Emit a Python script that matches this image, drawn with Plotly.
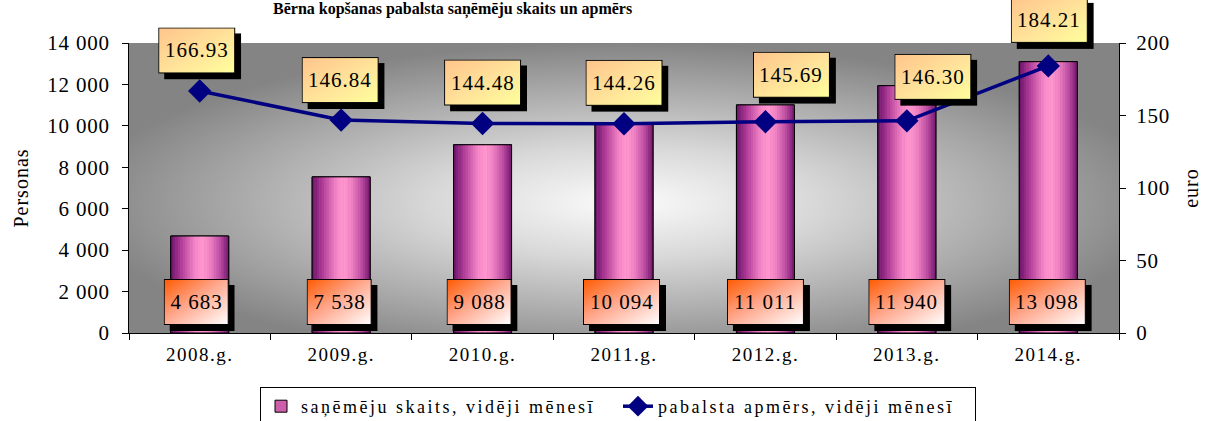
import base64
import plotly.graph_objects as go

# ---------------- data ----------------
years = ["2008.g.", "2009.g.", "2010.g.", "2011.g.", "2012.g.", "2013.g.", "2014.g."]
recipients = [4683, 7538, 9088, 10094, 11011, 11940, 13098]
benefit = [166.93, 146.84, 144.48, 144.26, 145.69, 146.30, 184.21]
name_bars = "saņēmēju skaits, vidēji mēnesī"
name_line = "pabalsta apmērs, vidēji mēnesī"
title_text = "Bērna kopšanas pabalsta saņēmēju skaits un apmērs"
y1_ticks = [0, 2000, 4000, 6000, 8000, 10000, 12000, 14000]
y2_ticks = [0, 50, 100, 150, 200]

# ---------------- layout constants ----------------
W, H = 1207, 421
ML, MR, MT, MB = 129, 88, 43, 88
PW, PH = W - ML - MR, H - MT - MB
Y1MAX, Y2MAX = 14000, 200
FONT = "Times New Roman, Liberation Serif, serif"
BW = 0.41  # bar width in category units
N = len(years)

# label box offsets (px) relative to anchor
top_dx = [-3, -1, 0, 0, 26, 26, 1]
top_dy = [40.5, 40, 41, 41, 47, 44, 46]
bot_dx = [-3.5, -2, -3.5, -2.5, 0, 0, -1]
BOT_Y = 1497  # value level of bottom labels
BOX_H = 46
SHADOW = 6


def lerp(c1, c2, t):
    return tuple(round(a + (b - a) * t) for a, b in zip(c1, c2))


grad_stops = [
    (0.0, (105, 18, 105)),
    (0.18, (175, 60, 150)),
    (0.42, (245, 135, 200)),
    (0.55, (255, 152, 206)),
    (0.68, (240, 130, 196)),
    (0.86, (185, 75, 160)),
    (1.0, (112, 22, 108)),
]


def grad_color(t):
    for (t0, c0), (t1, c1) in zip(grad_stops[:-1], grad_stops[1:]):
        if t0 <= t <= t1:
            return "rgb(%d,%d,%d)" % lerp(c0, c1, (t - t0) / (t1 - t0))
    return "rgb(%d,%d,%d)" % grad_stops[-1][1]


def svg_uri(svg):
    return "data:image/svg+xml;base64," + base64.b64encode(svg.encode("utf-8")).decode("ascii")


def box_svg(w, h, stops):
    st = "".join('<stop offset="%s" stop-color="%s"/>' % (o, c) for o, c in stops)
    return svg_uri(
        f'<svg xmlns="http://www.w3.org/2000/svg" width="{w + SHADOW}" height="{h + SHADOW}" '
        f'viewBox="0 0 {w + SHADOW} {h + SHADOW}" preserveAspectRatio="none">'
        f'<defs><linearGradient id="g" x1="0" y1="0" x2="1" y2="1">{st}</linearGradient></defs>'
        f'<rect x="{SHADOW}" y="{SHADOW}" width="{w}" height="{h}" fill="#000"/>'
        f'<rect x="0.5" y="0.5" width="{w - 1}" height="{h - 1}" fill="url(#g)" stroke="#000" stroke-width="1"/>'
        f'</svg>'
    )


bg_uri = svg_uri(
    '<svg xmlns="http://www.w3.org/2000/svg" width="990" height="290" viewBox="0 0 990 290" preserveAspectRatio="none">'
    '<defs><radialGradient id="r" cx="0.5" cy="0.55" r="0.55" fx="0.5" fy="0.55">'
    '<stop offset="0" stop-color="#fbfbfb"/><stop offset="0.35" stop-color="#d8d8d8"/>'
    '<stop offset="1" stop-color="#848484"/></radialGradient></defs>'
    '<rect x="0" y="0" width="990" height="290" fill="url(#r)"/></svg>'
)

fig = go.Figure()

# legend / base bar trace
fig.add_trace(go.Bar(
    x=years, y=recipients, name=name_bars, width=BW,
    marker=dict(color="rgb(205,95,170)", line=dict(color="black", width=1)),
    yaxis="y", hoverinfo="skip",
))

# gradient strips
NS = 24
sw = BW / NS
for k in range(NS):
    t = (k + 0.5) / NS
    fig.add_trace(go.Bar(
        x=years, y=recipients, width=sw * 1.15, offset=-BW / 2 + k * sw - sw * 0.05,
        marker=dict(color=grad_color(t), line=dict(width=0)),
        showlegend=False, hoverinfo="skip", yaxis="y",
    ))

# outline
fig.add_trace(go.Bar(
    x=years, y=recipients, width=BW,
    marker=dict(color="rgba(0,0,0,0)", line=dict(color="black", width=1)),
    showlegend=False, hoverinfo="skip", yaxis="y",
))

# line
fig.add_trace(go.Scatter(
    x=years, y=benefit, name=name_line, yaxis="y2", mode="lines+markers",
    line=dict(color="#000080", width=3.5),
    marker=dict(symbol="diamond", size=18, color="#000080"),
))

annotations = []
images = [dict(source=bg_uri, xref="paper", yref="paper", x=0, y=1, sizex=1, sizey=1,
               xanchor="left", yanchor="top", sizing="stretch", layer="below")]

top_stops = [(0, "#ffc48c"), (0.55, "#ffe49a"), (1, "#ffff9c")]
bot_stops = [(0, "#ff5a00"), (0.45, "#ffa58a"), (1, "#ffffff")]

for i in range(N):
    # top labels (benefit)
    txt = f"{benefit[i]:.2f}"
    w = 12 * len(txt) + 5
    cx = (i + 0.5) * PW / N + top_dx[i]
    cy = benefit[i] / Y2MAX * PH + top_dy[i]
    images.append(dict(source=box_svg(w, BOX_H, top_stops), xref="paper", yref="paper",
                       x=(cx - w / 2) / PW, y=(cy + BOX_H / 2) / PH,
                       sizex=(w + SHADOW) / PW, sizey=(BOX_H + SHADOW) / PH,
                       xanchor="left", yanchor="top", sizing="stretch", layer="above"))
    annotations.append(dict(text=txt, xref="paper", yref="paper", x=cx / PW, y=cy / PH,
                            xanchor="center", yanchor="middle", showarrow=False,
                            font=dict(family=FONT, size=21, color="black")))
    # bottom labels (recipients)
    txt = f"{recipients[i]:,}".replace(",", " ")
    w = 12 * len(txt) + 5
    cx = (i + 0.5) * PW / N + bot_dx[i]
    cy = BOT_Y / Y1MAX * PH
    images.append(dict(source=box_svg(w, BOX_H, bot_stops), xref="paper", yref="paper",
                       x=(cx - w / 2) / PW, y=(cy + BOX_H / 2) / PH,
                       sizex=(w + SHADOW) / PW, sizey=(BOX_H + SHADOW) / PH,
                       xanchor="left", yanchor="top", sizing="stretch", layer="above"))
    annotations.append(dict(text=txt, xref="paper", yref="paper", x=cx / PW, y=cy / PH,
                            xanchor="center", yanchor="middle", showarrow=False,
                            font=dict(family=FONT, size=21, color="black")))

axis_common = dict(showline=True, linecolor="black", linewidth=1, ticks="outside", ticklen=6,
                   tickcolor="black", showgrid=False, zeroline=False)

fig.update_layout(
    width=W, height=H,
    margin=dict(l=ML, r=MR, t=MT, b=MB, autoexpand=False),
    paper_bgcolor="white", plot_bgcolor="rgba(0,0,0,0)",
    barmode="overlay", separators=". ",
    font=dict(family=FONT, color="black"),
    title=dict(text="<b>" + title_text + "</b>", xref="container", x=273 / W, xanchor="left",
               yref="container", y=1 - 3 / H, yanchor="top",
               font=dict(family=FONT, size=16, color="black")),
    xaxis=dict(type="category", range=[-0.5, N - 0.5], tickson="boundaries",
               ticklabelstandoff=4, tickfont=dict(family=FONT, size=19, color="black"),
               **axis_common),
    yaxis=dict(range=[0, Y1MAX], tickvals=y1_ticks, tickformat=",d", ticklabelstandoff=8,
               tickfont=dict(family=FONT, size=21, color="black"),
               title=dict(text="Personas", font=dict(family=FONT, size=20), standoff=18),
               **axis_common),
    yaxis2=dict(range=[0, Y2MAX], tickvals=y2_ticks, overlaying="y", side="right",
                ticklabelstandoff=6, tickfont=dict(family=FONT, size=21, color="black"),
                title=dict(text="euro", font=dict(family=FONT, size=20), standoff=17),
                **axis_common),
    legend=dict(orientation="h", x=(618 - ML) / PW, xanchor="center", y=(0 - 54) / PH, yanchor="top",
                bordercolor="black", borderwidth=1, bgcolor="white", entrywidth=312,
                font=dict(family=FONT, size=18, color="black")),
    annotations=annotations, images=images, showlegend=True,
)

# emulate the wide character spacing of the original office chart
post = (
    "document.body.style.margin='0';document.body.style.padding='0';"
    "var s=document.createElement('style');"
    "s.textContent='text.legendtext{letter-spacing:2.5px}"
    " .xtick text{letter-spacing:1.5px}"
    " .ytick text,.y2tick text{letter-spacing:0.8px}"
    " text.annotation-text{letter-spacing:1px}"
    " text.ytitle,text.y2title{letter-spacing:1px}';"
    "document.head.appendChild(s);"
)
fig.write_html("out.html", config={"displayModeBar": False}, post_script=post)
